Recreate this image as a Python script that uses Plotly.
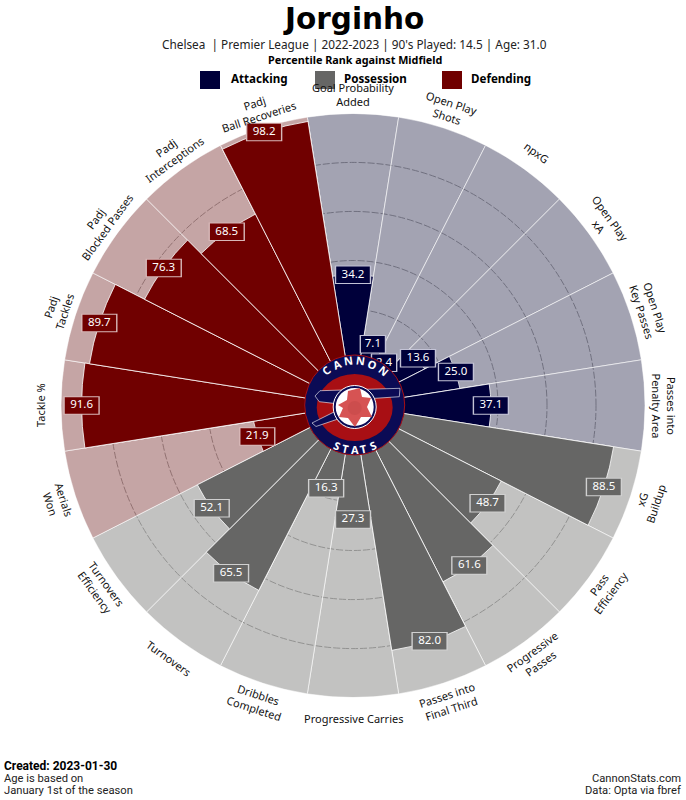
import math
import plotly.graph_objects as go

W, H = 686, 800
CX, CY, R_OUT = 353, 405.5, 292
R_IN = 47

metric_labels = [
    "Goal Probability<br>Added", "Open Play<br>Shots", "npxG", "Open Play<br>xA",
    "Open Play<br>Key Passes", "Passes into<br>Penalty Area", "xG<br>Buildup", "Pass<br>Efficiency",
    "Progressive<br>Passes", "Passes into<br>Final Third", "Progressive Carries", "Dribbles<br>Completed",
    "Turnovers", "Turnovers<br>Efficiency", "Aerials<br>Won", "Tackle %",
    "Padj<br>Tackles", "Padj<br>Blocked Passes", "Padj<br>Interceptions", "Padj<br>Ball Recoveries",
]
percentiles = [34.2, 7.1, 2.4, 13.6, 25.0, 37.1, 88.5, 48.7, 61.6, 82.0,
               27.3, 16.3, 65.5, 52.1, 21.9, 91.6, 89.7, 76.3, 68.5, 98.2]
groups = ["Attacking"] * 6 + ["Possession"] * 8 + ["Defending"] * 6
group_names = ["Attacking", "Possession", "Defending"]
dark = {"Attacking": "#00003a", "Possession": "#666665", "Defending": "#700000"}
light = {"Attacking": "rgba(0,0,42,0.36)", "Possession": "rgba(102,102,100,0.40)", "Defending": "rgba(90,0,0,0.353)"}
edge = {"Attacking": "#c3c3d6", "Possession": "#d0d0d0", "Defending": "#d8b8b8"}
grid_ticks = [20, 40, 60, 80]
full_scale = 100
STEP = 360 / len(percentiles)
thetas = [i * STEP for i in range(len(percentiles))]

LABEL_FONT = "Noto Sans"
HEAD_FONT = "DejaVu Sans"
FOOT_FONT = "Roboto"


def px(x):
    return x / W


def py(y):
    return 1 - y / H


def polar_px(theta, radius):
    t = math.radians(theta)
    return CX + radius * math.sin(t), CY - radius * math.cos(t)


value_text = [f"{v:.1f}" for v in percentiles]
box_len = [24 if len(t) > 3 else 17 for t in value_text]

fig = go.Figure()
fig.add_trace(go.Barpolar(
    r=[full_scale] * len(thetas), theta=thetas, width=STEP,
    marker=dict(color=[light[g] for g in groups], line=dict(color="rgba(255,255,255,0.6)", width=1)),
    hoverinfo="skip", showlegend=False))
fig.add_trace(go.Barpolar(
    r=percentiles, theta=thetas, width=STEP,
    marker=dict(color=[dark[g] for g in groups], line=dict(color="rgba(255,255,255,0.8)", width=1)),
    showlegend=False))
# value boxes: thick horizontal line markers placed by the polar axes
fig.add_trace(go.Scatterpolar(
    r=percentiles, theta=thetas, mode="markers", hoverinfo="skip", showlegend=False, cliponaxis=False,
    marker=dict(symbol="line-ew", size=[b + 2 for b in box_len], opacity=1,
                line=dict(color=[edge[g] for g in groups], width=18.5))))
fig.add_trace(go.Scatterpolar(
    r=percentiles, theta=thetas, mode="markers+text", hoverinfo="skip", showlegend=False, cliponaxis=False,
    text=value_text, textposition="middle center",
    textfont=dict(family=LABEL_FONT, size=11.5, color="#ffffff"),
    marker=dict(symbol="line-ew", size=box_len, opacity=1,
                line=dict(color=[dark[g] for g in groups], width=16.5))))

ann = []
shapes = []


def text(x, y, s, size, color="#111111", bold=False, anchor="center", angle=0, family=LABEL_FONT):
    ann.append(dict(x=px(x), y=py(y), xref="paper", yref="paper", text=s, showarrow=False,
                    xanchor=anchor, yanchor="middle", textangle=angle, borderpad=0, borderwidth=0,
                    font=dict(family=family, size=size, color=color, weight=700 if bold else 400)))


# metric labels around the rim
for th, lab in zip(thetas, metric_labels):
    if th <= 90:
        rot = th
    elif th < 270:
        rot = th - 180
    else:
        rot = th - 360
    x, y = polar_px(th, 311 if "<br>" in lab else 312.5)
    text(x, y, lab, 11, color="#111111", angle=rot)


# logo
def ellipse(cx, cy, rx, ry, fill, line=None, lw=0):
    shapes.append(dict(type="circle", xref="paper", yref="paper", x0=px(cx - rx), x1=px(cx + rx),
                       y0=py(cy + ry), y1=py(cy - ry), fillcolor=fill,
                       line=dict(color=line or fill, width=lw), layer="above"))


def poly(points, fill, line=None, lw=0):
    path = "M " + " L ".join(f"{px(a):.5f},{py(b):.5f}" for a, b in points) + " Z"
    shapes.append(dict(type="path", xref="paper", yref="paper", path=path, fillcolor=fill,
                       line=dict(color=line or fill, width=lw), layer="above"))


LX, LY = 354.7, 405
NAVY = "#0b0b55"
RED = "#a80f14"
ellipse(LX, LY, 50, 50, NAVY, RED, 1)
ellipse(LX, LY + 2.5, 38, 33.5, RED)
poly([(320, 390.7), (400, 388.3), (399.3, 396.7), (375, 398.3), (333.3, 403.3), (319.3, 401.7), (315, 396)],
     NAVY, "#ffffff", 0.6)
poly([(312, 423), (334, 412), (338, 419), (316, 426.5)], NAVY, "#ffffff", 0.6)
ellipse(LX, LY + 2, 21.5, 21.5, NAVY, "#ffffff", 1)
ellipse(LX, LY + 2, 19, 19, "#ffffff")
poly([(348, 391), (360, 388), (362, 397), (371, 398), (367, 407), (372, 417), (361, 417), (355, 427), (348, 418),
      (339, 417), (343, 408), (338, 405), (347, 400)], "#d65353")
ellipse(LX, LY + 3, 7, 7, "#cc4d4d")

for ch, a in zip("CANNON", [-40, -24, -8, 8, 24, 40]):
    x = LX + 44.5 * math.sin(math.radians(a))
    y = LY - 44.5 * math.cos(math.radians(a))
    text(x, y, ch, 11, "#ffffff", True, angle=a)
for ch, a in zip("STATS", [24, 12, 0, -12, -24]):
    x = LX + 44.5 * math.sin(math.radians(a))
    y = LY + 44.5 * math.cos(math.radians(a))
    text(x, y, ch, 11, "#ffffff", True, angle=-a)

# header
text(353.5, 19, "Jorginho", 29.5, "#000000", True, family=HEAD_FONT)
text(354.5, 44, "Chelsea  | Premier League | 2022-2023 | 90's Played: 14.5 | Age: 31.0", 11.8, "#222222")
text(354.5, 60, "Percentile Rank against Midfield", 10.8, "#000000", True)
leg_sq = [200, 315, 442]
leg_tx = [231, 344, 471]
for sx, tx, name in zip(leg_sq, leg_tx, group_names):
    shapes.append(dict(type="rect", xref="paper", yref="paper", x0=px(sx), x1=px(sx + 20), y0=py(89), y1=py(71),
                       fillcolor=dark[name], line=dict(width=0)))
    text(tx, 78, name, 11.6, "#000000", True, anchor="left")

# footer
text(4, 766, "Created: 2023-01-30", 12, "#000000", True, anchor="left", family=FOOT_FONT)
text(4, 778, "Age is based on", 11.2, "#222222", anchor="left", family=FOOT_FONT)
text(4, 790.5, "January 1st of the season", 11.2, "#222222", anchor="left", family=FOOT_FONT)
text(681, 778.5, "CannonStats.com", 11.2, "#222222", anchor="right", family=FOOT_FONT)
text(681, 790.5, "Data: Opta via fbref", 11.2, "#222222", anchor="right", family=FOOT_FONT)

fig.update_layout(
    width=W, height=H, margin=dict(l=0, r=0, t=0, b=0), paper_bgcolor="white", showlegend=False,
    annotations=ann, shapes=shapes,
    polar=dict(
        domain=dict(x=[px(CX - R_OUT), px(CX + R_OUT)], y=[py(CY + R_OUT), py(CY - R_OUT)]),
        bgcolor="white", hole=R_IN / R_OUT, barmode="overlay",
        angularaxis=dict(rotation=90, direction="clockwise", showgrid=False, showline=False,
                         showticklabels=False, ticks=""),
        radialaxis=dict(range=[0, full_scale], tickvals=grid_ticks, showticklabels=False, ticks="",
                        showline=False, showgrid=True, gridcolor="#b0b0b0", griddash="7px,2px", gridwidth=0.8),
    ),
)
fig.write_html("out.html", config=dict(displayModeBar=False),
               post_script="document.body.style.margin='0';document.body.style.overflow='hidden';")
